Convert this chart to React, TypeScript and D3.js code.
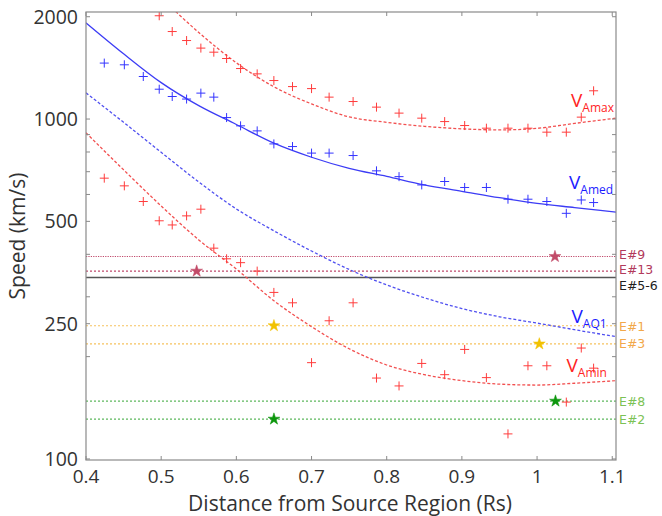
import React from "react";
import * as d3 from "d3";

// Sample distances (Rs) of the measured points
const distance = [
  0.4243, 0.451, 0.4762, 0.4974, 0.5147, 0.5338, 0.5528, 0.57, 0.587, 0.6056,
  0.6277, 0.6499, 0.6747, 0.7, 0.7234, 0.7553, 0.7864, 0.8164, 0.8466, 0.8771,
  0.9037, 0.9326, 0.9613, 0.9879, 1.013, 1.0389, 1.0588, 1.0752,
];

// Alfvén speed estimates (km/s); null = above the plotted range
const vaMax = [
  null, null, null, 2013, 1809, 1702, 1617, 1573, 1507, 1408, 1358, 1298, 1246,
  1229, 1160, 1126, 1084, 1041, 1006, 983, 957, 940, 940, 940, 915, 915, 1013, 1211,
];
const vaMed = [
  1461, 1444, 1334, 1224, 1165, 1145, 1192, 1160, 1010, 955, 923, 845, 830, 794,
  794, 781, 704, 677, 640, 655, 629, 629, 581, 581, 572, 528, 578, 568,
];
const vaMin = [
  670, 636, 572, 502, 488, 519, 543, 417, 388, 378, 357, 309, 288, 192, 255, 288,
  173, 164, 191, 177, 210, 173.5, 118.5, 188, 188, 147, 212, 185,
];

// Fitted trends sampled along distance
const fitX = [0.4, 0.45, 0.5, 0.55, 0.6, 0.65, 0.7, 0.75, 0.8, 0.85, 0.9, 0.95, 1.0, 1.05, 1.105];
const fitMax = [null, null, 2274, 1798, 1464, 1244, 1108, 1015, 978, 952, 936, 929, 939, 971, 1006];
const fitMed = [1919, 1556, 1280, 1095, 964, 849, 772, 716, 678, 640, 613, 587, 565, 549, 532];
const fitQ1 = [1194, 978, 798, 653, 544, 469, 409, 361, 325, 298, 277, 262, 251, 240, 229];
const fitMin = [911, 709, 555, 441, 362, 292, 245, 211, 189, 177, 170, 166, 165, 167, 170];

// Event reference speeds (km/s)
const eventNames = ["E#9", "E#13", "E#5-6", "E#1", "E#3", "E#8", "E#2"];
const eventSpeeds = [394, 357, 342, 246.6, 218, 148, 131];
const eventColors = ["#b23a5c", "#b23a5c", "#222222", "#f2a84a", "#f2a84a", "#7cc255", "#7cc255"];
const eventLineColors = ["#c04a6c", "#c04a6c", "#555555", "#f6c25e", "#f6c25e", "#5db85d", "#5db85d"];
const eventDash = ["1.2,1.2", "2,2", "", "2,2", "2,2", "2,2", "2,2"];
// baseline shift of each event label relative to its line
const eventLabelShift = [2.6, 3.3, 12.7, 5, 4.3, 5.4, 5];

// Event markers: distance and the speed line they sit on
const starX = [1.0238, 0.5472, 0.65, 1.003, 0.65, 1.0245];
const starY = [394, 357, 246.6, 218, 131, 148];
const starColors = ["#c24b68", "#c24b68", "#f2c200", "#f2c200", "#0c960c", "#0c960c"];

const xTicks = [0.4, 0.5, 0.6, 0.7, 0.8, 0.9, 1.0, 1.1];
const xTickLabels = ["0.4", "0.5", "0.6", "0.7", "0.8", "0.9", "1", "1.1"];
const yTicks = [100, 200, 250, 300, 400, 500, 600, 700, 800, 900, 1000, 2000];
const yTickLabels = [100, 250, 500, 1000, 2000];

const W = 662;
const H = 516;
const left = 86;
const right = 616;
const top = 12;
const bottom = 460;
const FONT = "'Open Sans', 'DejaVu Sans', sans-serif";

export default function App() {
  const x = d3.scaleLinear().domain([0.4, 1.105]).range([left, right]);
  const y = d3.scaleLog().domain([99.3, 2065]).range([bottom, top]);

  const line = d3
    .line<[number, number | null]>()
    .defined((d) => d[1] != null)
    .x((d) => x(d[0]))
    .y((d) => y(d[1] as number))
    .curve(d3.curveMonotoneX);

  const fits = [
    { v: fitMax, color: "#f25050", dash: "3,2" },
    { v: fitMed, color: "#3c3cf5", dash: "" },
    { v: fitQ1, color: "#5050f0", dash: "3,2" },
    { v: fitMin, color: "#f25050", dash: "3,2" },
  ];

  const groups = [
    { v: vaMax, color: "#ff3c3c" },
    { v: vaMed, color: "#3434ff" },
    { v: vaMin, color: "#ff3c3c" },
  ];

  const star = d3.symbol().type(d3.symbolStar).size(44)();
  const arm = 4.5;

  const vLabels = [
    { x: 571, y: 106.7, sub: "max", color: "#ff2424" },
    { x: 569, y: 189.3, sub: "med", color: "#1c1cff" },
    { x: 571.5, y: 323.3, sub: "Q1", color: "#1c1cff" },
    { x: 566.5, y: 371.7, sub: "min", color: "#ff2424" },
  ];

  return (
    <svg
      width={W}
      height={H}
      style={{ position: "absolute", left: 0, top: 0, background: "#fff" }}
      fontFamily={FONT}
    >
      <defs>
        <clipPath id="plotArea">
          <rect x={left} y={top} width={right - left} height={bottom - top} />
        </clipPath>
      </defs>

      <g clipPath="url(#plotArea)">
        {eventSpeeds.map((s, i) => (
          <line
            key={"ev" + i}
            x1={left}
            x2={right}
            y1={y(s)}
            y2={y(s)}
            stroke={eventLineColors[i]}
            strokeWidth={eventDash[i] ? 1.1 : 1.4}
            strokeDasharray={eventDash[i] || undefined}
          />
        ))}

        {fits.map((f, i) => (
          <path
            key={"fit" + i}
            d={line(fitX.map((xv, j) => [xv, f.v[j]] as [number, number | null])) || ""}
            fill="none"
            stroke={f.color}
            strokeWidth={1.3}
            strokeDasharray={f.dash || undefined}
          />
        ))}

        {groups.map((g, gi) =>
          distance.map((dx, i) => {
            const v = g.v[i];
            if (v == null) return null;
            const cx = x(dx);
            const cy = y(v);
            return (
              <path
                key={`p${gi}-${i}`}
                d={`M${cx - arm},${cy}H${cx + arm}M${cx},${cy - arm}V${cy + arm}`}
                stroke={g.color}
                strokeWidth={1}
                fill="none"
              />
            );
          })
        )}

        {starX.map((sx, i) => (
          <path
            key={"st" + i}
            d={star || ""}
            transform={`translate(${x(sx)},${y(starY[i])})`}
            fill={starColors[i]}
            stroke={starColors[i]}
            strokeWidth={0.5}
          />
        ))}
      </g>

      {/* frame */}
      <rect
        x={left}
        y={top}
        width={right - left}
        height={bottom - top}
        fill="none"
        stroke="#8a8a8a"
        strokeWidth={1.2}
      />

      {/* x ticks */}
      {xTicks.map((t, i) => (
        <g key={"xt" + i}>
          <line x1={x(t)} x2={x(t)} y1={bottom} y2={bottom - 4} stroke="#8a8a8a" />
          <line x1={x(t)} x2={x(t)} y1={top} y2={top + 4} stroke="#8a8a8a" />
          <text x={x(t)} y={483} textAnchor="middle" fontSize={19} fill="#333">
            {xTickLabels[i]}
          </text>
        </g>
      ))}

      {/* y ticks */}
      {yTicks.map((t, i) => (
        <g key={"yt" + i}>
          <line x1={left} x2={left + 4} y1={y(t)} y2={y(t)} stroke="#8a8a8a" />
          <line x1={right} x2={right - 4} y1={y(t)} y2={y(t)} stroke="#8a8a8a" />
        </g>
      ))}
      {yTickLabels.map((t) => (
        <text
          key={"yl" + t}
          x={78}
          y={y(t)}
          dy="0.36em"
          textAnchor="end"
          fontSize={19.5}
          fill="#333"
        >
          {t}
        </text>
      ))}

      {/* axis titles */}
      <text x={350} y={510.5} textAnchor="middle" fontSize={21} fill="#333">
        Distance from Source Region (Rs)
      </text>
      <text
        transform={`translate(25,236) rotate(-90)`}
        textAnchor="middle"
        fontSize={21}
        fill="#333"
      >
        Speed (km/s)
      </text>

      {/* event labels */}
      {eventNames.map((n, i) => (
        <text
          key={"en" + i}
          x={619}
          y={y(eventSpeeds[i]) + eventLabelShift[i]}
          fontSize={12.5}
          fontFamily="'DejaVu Sans', sans-serif"
          fill={eventColors[i]}
        >
          {n}
        </text>
      ))}

      {/* speed labels */}
      {vLabels.map((l, i) => (
        <text key={"vl" + i} x={l.x} y={l.y} fill={l.color} fontSize={19}>
          V
          <tspan fontSize={12} dy={5}>
            A{l.sub}
          </tspan>
        </text>
      ))}
    </svg>
  );
}
